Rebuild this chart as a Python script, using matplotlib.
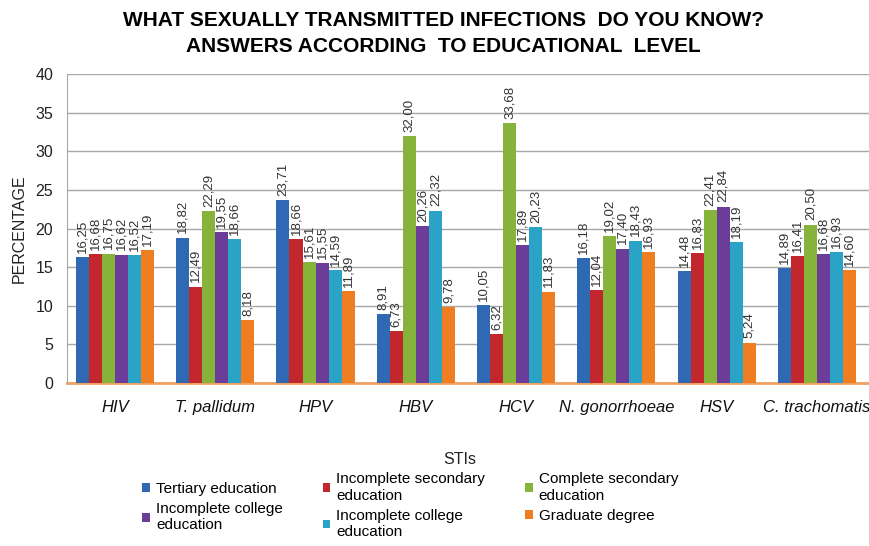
#=======================================================================
# GENERAL DOCUMENTATION ------------------------------------------------
""" Grouped bar chart of known STIs split by educational level.
"""

#=======================================================================
# PROGRAM IMPORTS ------------------------------------------------------
import numpy as np
import matplotlib
matplotlib.use("Agg")
import matplotlib.pyplot as plt

# PROGRAM CONSTANTS ----------------------------------------------------
stis = ["HIV", "T. pallidum", "HPV", "HBV", "HCV", "N. gonorrhoeae",
        "HSV", "C. trachomatis"]

levels = ["Tertiary education",
          "Incomplete secondary\neducation",
          "Complete secondary\neducation",
          "Incomplete college\neducation",
          "Incomplete college\neducation",
          "Graduate degree"]

tertiary      = [16.25, 18.82, 23.71, 8.91, 10.05, 16.18, 14.48, 14.89]
inc_secondary = [16.68, 12.49, 18.66, 6.73, 6.32, 12.04, 16.83, 16.41]
com_secondary = [16.75, 22.29, 15.61, 32.00, 33.68, 19.02, 22.41, 20.50]
inc_college_a = [16.62, 19.55, 15.55, 20.26, 17.89, 17.40, 22.84, 16.68]
inc_college_b = [16.52, 18.66, 14.59, 22.32, 20.23, 18.43, 18.19, 16.93]
graduate      = [17.19, 8.18, 11.89, 9.78, 11.83, 16.93, 5.24, 14.60]

series = [tertiary, inc_secondary, com_secondary,
          inc_college_a, inc_college_b, graduate]

colors = ["#2f69b3", "#c1272d", "#86b43a", "#6b3d98", "#2aa3c6", "#ef7d22"]

#=======================================================================
# PROGRAM SCRIPT -------------------------------------------------------
plt.rcParams["font.family"] = ["Liberation Sans", "DejaVu Sans"]

fig = plt.figure(figsize=(8.69, 5.46), dpi=100)
ax = fig.add_axes([0.077, 0.2985, 0.923, 0.566])

x = np.arange(len(stis))
width = 0.13
offsets = (np.arange(len(series)) - (len(series) - 1) / 2) * width

handles = []
for s, vals in enumerate(series):
    bars = ax.bar(x + offsets[s], vals, width, color=colors[s],
                  label=levels[s], zorder=3)
    handles.append(bars)
    # value labels, comma decimal, rotated
    for xi, v in zip(x + offsets[s], vals):
        ax.annotate(("%.2f" % v).replace(".", ","), (xi, v),
                    xytext=(0, 3), textcoords="offset points",
                    rotation=90, ha="center", va="bottom",
                    fontsize=9.5, color="#333333")

# axes formatting
ax.set_ylim(0, 40)
ax.set_xlim(-0.48, len(stis) - 0.48)
ax.set_yticks(range(0, 41, 5))
ax.yaxis.grid(True, color="#a8a8a8", linewidth=1.0, zorder=0)
ax.set_axisbelow(True)
ax.tick_params(axis="y", length=0, labelsize=11.5, colors="#222222", pad=10)
ax.tick_params(axis="x", length=0, pad=12)
ax.set_xticks(x)
ax.set_xticklabels(stis, fontsize=12, style="italic", color="#111111")

for side in ["top", "right"]:
    ax.spines[side].set_visible(False)
ax.spines["left"].set_color("#a8a8a8")
ax.spines["bottom"].set_color("#f0a060")
ax.spines["bottom"].set_linewidth(2)

ax.set_ylabel("PERCENTAGE", fontsize=11.5, color="#222222", labelpad=6)
ax.set_xlabel("STIs", fontsize=11.5, color="#222222")
ax.xaxis.set_label_coords(0.49, -0.223)

fig.text(0.51, 0.98,
         "WHAT SEXUALLY TRANSMITTED INFECTIONS  DO YOU KNOW?\n"
         "ANSWERS ACCORDING  TO EDUCATIONAL  LEVEL",
         ha="center", va="top", fontsize=15, fontweight="bold",
         linespacing=1.45)

# legend laid out row-wise, three entries per row
order = [0, 3, 1, 4, 2, 5]
fig.legend([handles[i] for i in order], [levels[i] for i in order],
           ncol=3, loc="upper left", bbox_to_anchor=(0.148, 0.16),
           frameon=False, fontsize=11, handlelength=0.5,
           handleheight=0.5, handletextpad=0.4, columnspacing=2.6,
           labelspacing=0.4)

fig.savefig("out.png", dpi=100)
